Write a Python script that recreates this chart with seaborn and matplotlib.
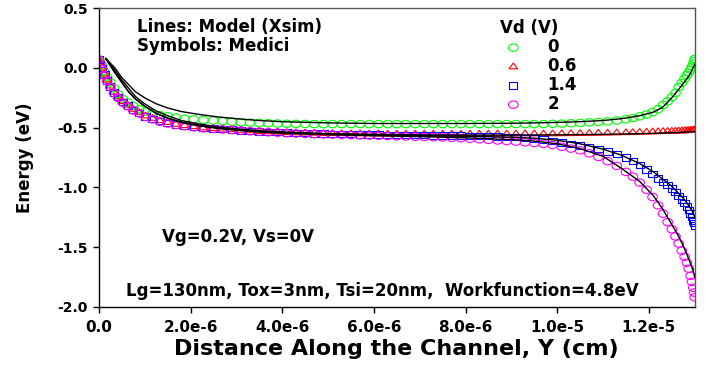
import numpy as np
import pandas as pd
import matplotlib
matplotlib.use("Agg")
import matplotlib.pyplot as plt
from matplotlib.path import Path
from matplotlib.transforms import Affine2D
import seaborn as sns

# ---- Medici simulation (symbols): shared mesh positions, in units of 1e-6 cm ----
mesh_y = [0.0, 0.03, 0.07, 0.12, 0.18, 0.25, 0.33, 0.42, 0.52, 0.63, 0.75, 0.88,
          1.02, 1.17, 1.33, 1.5, 1.68, 1.87, 2.07, 2.28, 2.5, 2.7,
          2.9, 3.1, 3.3, 3.5, 3.7, 3.9, 4.1, 4.3, 4.5, 4.7, 4.9, 5.1, 5.3, 5.5,
          5.7, 5.9, 6.1, 6.3, 6.5, 6.7, 6.9, 7.1, 7.3, 7.5, 7.7, 7.9, 8.1, 8.3,
          8.5, 8.7, 8.9, 9.1, 9.3, 9.5,
          9.7, 9.9, 10.1, 10.3, 10.5, 10.7, 10.9, 11.1, 11.3, 11.5, 11.65, 11.8,
          11.95, 12.08, 12.2, 12.31, 12.41, 12.5, 12.58, 12.65, 12.72, 12.78,
          12.83, 12.87, 12.91, 12.94, 12.97, 12.99, 13.0]

medici_vd0 = [0.07, 0.05, 0.02, -0.03, -0.08, -0.12, -0.17, -0.22, -0.26, -0.29, -0.32, -0.345,
              -0.365, -0.38, -0.395, -0.405, -0.415, -0.425, -0.43, -0.435, -0.44, -0.445,
              -0.45, -0.455, -0.458, -0.46, -0.463, -0.465, -0.467, -0.468, -0.469, -0.47, -0.47, -0.47, -0.47, -0.47,
              -0.47, -0.47, -0.47, -0.47, -0.47, -0.47, -0.47, -0.47, -0.47, -0.47, -0.47, -0.47, -0.47, -0.47,
              -0.47, -0.47, -0.47, -0.47, -0.47, -0.47,
              -0.47, -0.468, -0.466, -0.463, -0.46, -0.456, -0.452, -0.447, -0.44, -0.43, -0.42, -0.405,
              -0.39, -0.37, -0.345, -0.31, -0.28, -0.245, -0.21, -0.16, -0.125, -0.09,
              -0.06, -0.04, -0.015, 0.01, 0.035, 0.055, 0.075]

medici_vd06 = [0.07, 0.04, 0.0, -0.05, -0.10, -0.15, -0.20, -0.24, -0.28, -0.31, -0.345, -0.37,
               -0.40, -0.42, -0.44, -0.455, -0.47, -0.48, -0.49, -0.50, -0.505, -0.51,
               -0.515, -0.52, -0.525, -0.53, -0.533, -0.536, -0.539, -0.541, -0.543, -0.545, -0.547, -0.548, -0.549, -0.55,
               -0.55, -0.551, -0.551, -0.552, -0.552, -0.552, -0.552, -0.552, -0.552, -0.552, -0.552, -0.552, -0.552, -0.552,
               -0.551, -0.551, -0.551, -0.551, -0.55, -0.55,
               -0.55, -0.55, -0.549, -0.548, -0.547, -0.546, -0.545, -0.544, -0.542, -0.54, -0.539, -0.537,
               -0.535, -0.533, -0.532, -0.53, -0.529, -0.528, -0.527, -0.526, -0.525, -0.524,
               -0.523, -0.522, -0.521, -0.52, -0.519, -0.518, -0.517]

medici_vd14 = [0.07, 0.035, -0.005, -0.055, -0.105, -0.155, -0.205, -0.245, -0.285, -0.315, -0.35, -0.375,
               -0.405, -0.425, -0.445, -0.46, -0.473, -0.483, -0.493, -0.502, -0.508, -0.513,
               -0.517, -0.522, -0.527, -0.531, -0.535, -0.538, -0.541, -0.544, -0.546, -0.548, -0.55, -0.552, -0.553, -0.555,
               -0.556, -0.557, -0.558, -0.559, -0.56, -0.561, -0.562, -0.563, -0.564, -0.565, -0.566, -0.567, -0.568, -0.57,
               -0.572, -0.574, -0.577, -0.58, -0.584, -0.59,
               -0.60, -0.61, -0.625, -0.635, -0.65, -0.665, -0.68, -0.70, -0.72, -0.75, -0.78, -0.81,
               -0.85, -0.89, -0.925, -0.955, -0.98, -1.01, -1.04, -1.07, -1.10, -1.13,
               -1.16, -1.19, -1.22, -1.25, -1.28, -1.30, -1.32]

medici_vd2 = [0.07, 0.03, -0.01, -0.06, -0.11, -0.16, -0.21, -0.25, -0.29, -0.32, -0.355, -0.38,
              -0.41, -0.43, -0.45, -0.465, -0.477, -0.487, -0.497, -0.505, -0.51, -0.515,
              -0.52, -0.525, -0.53, -0.534, -0.538, -0.542, -0.546, -0.549, -0.552, -0.554, -0.556, -0.558, -0.56, -0.562,
              -0.564, -0.566, -0.568, -0.57, -0.572, -0.574, -0.576, -0.578, -0.58, -0.582, -0.585, -0.588, -0.592, -0.597,
              -0.602, -0.607, -0.612, -0.617, -0.622, -0.628,
              -0.635, -0.645, -0.66, -0.675, -0.69, -0.715, -0.745, -0.78, -0.82, -0.87, -0.91, -0.96,
              -1.02, -1.08, -1.15, -1.22, -1.29, -1.35, -1.41, -1.47, -1.53, -1.58,
              -1.63, -1.68, -1.74, -1.79, -1.84, -1.88, -1.92]

# ---- Xsim model (lines), in units of 1e-6 cm ----
model_y = [0.15, 0.25, 0.35, 0.5, 0.65, 0.8, 1.0, 1.25, 1.5, 1.8, 2.2, 2.6, 3.0, 3.5,
           4.0, 5.0, 6.0, 7.0, 8.0, 9.0, 9.5, 10.0, 10.5, 11.0, 11.4, 11.8, 12.1,
           12.3, 12.5, 12.65, 12.75, 12.83, 12.9, 12.95, 12.98, 13.0]

model_vd0 = [0.08, 0.04, 0.0, -0.08, -0.14, -0.20, -0.25, -0.30, -0.335, -0.365, -0.39, -0.41, -0.425, -0.44,
             -0.45, -0.46, -0.465, -0.465, -0.465, -0.463, -0.46, -0.456, -0.45, -0.44, -0.425, -0.40, -0.37,
             -0.33, -0.25, -0.18, -0.13, -0.09, -0.05, -0.01, 0.01, 0.03]
model_vd06 = [0.08, 0.03, -0.02, -0.10, -0.17, -0.24, -0.30, -0.36, -0.40, -0.44, -0.47, -0.495, -0.51, -0.525,
              -0.535, -0.55, -0.555, -0.56, -0.562, -0.562, -0.561, -0.56, -0.558, -0.556, -0.553, -0.55, -0.547,
              -0.545, -0.542, -0.54, -0.538, -0.536, -0.535, -0.533, -0.532, -0.53]
model_vd14 = [0.08, 0.02, -0.04, -0.12, -0.20, -0.26, -0.32, -0.38, -0.42, -0.455, -0.485, -0.505, -0.52, -0.535,
              -0.545, -0.555, -0.562, -0.567, -0.572, -0.58, -0.588, -0.605, -0.635, -0.68, -0.73, -0.80, -0.87,
              -0.93, -0.99, -1.05, -1.09, -1.13, -1.17, -1.20, -1.23, -1.25]
model_vd2 = [0.08, 0.02, -0.04, -0.12, -0.20, -0.26, -0.32, -0.38, -0.42, -0.455, -0.485, -0.505, -0.52, -0.535,
             -0.545, -0.558, -0.567, -0.575, -0.585, -0.60, -0.612, -0.635, -0.675, -0.74, -0.84, -0.95, -1.07,
             -1.18, -1.31, -1.41, -1.49, -1.56, -1.63, -1.68, -1.72, -1.75]

vd_labels = ["0", "0.6", "1.4", "2"]
vd_colors = ["#00ff00", "#ff0000", "#0000ff", "#ff00ff"]
vd_shapes = ["circle", "triangle", "square", "circle"]

x_ticks = [0.0, 2.0e-6, 4.0e-6, 6.0e-6, 8.0e-6, 1.0e-5, 1.2e-5]
x_tick_labels = ["0.0", "2.0e-6", "4.0e-6", "6.0e-6", "8.0e-6", "1.0e-5", "1.2e-5"]
y_ticks = [-2.0, -1.5, -1.0, -0.5, 0.0, 0.5]

UNIT = 1e-6
medici = [medici_vd0, medici_vd06, medici_vd14, medici_vd2]
model = [model_vd0, model_vd06, model_vd14, model_vd2]

# Slightly wide symbol outlines (the plot's symbols are wider than tall)
WIDE = Affine2D().scale(1.3, 1.0)
tri_path = Path([(0, 1), (-0.95, -0.6), (0.95, -0.6), (0, 1)],
                [Path.MOVETO, Path.LINETO, Path.LINETO, Path.CLOSEPOLY])
symbol_paths = {
    "circle": WIDE.transform_path(Path.unit_circle()),
    "triangle": WIDE.transform_path(tri_path),
    "square": WIDE.transform_path(Path.unit_rectangle().transformed(Affine2D().translate(-0.5, -0.5))),
}
symbol_sizes = {"circle": 48, "triangle": 40, "square": 36}

sns.set_style("ticks")
plt.rcParams["font.family"] = ["DejaVu Sans"]
plt.rcParams["font.weight"] = "bold"
for key in ["text.color", "axes.labelcolor", "xtick.color", "ytick.color", "axes.edgecolor"]:
    plt.rcParams[key] = "black"

fig = plt.figure(figsize=(7.06, 3.72), dpi=100)
ax = fig.add_axes([0.140, 0.175, 0.844, 0.803])

for lab, col, shape, vals in zip(vd_labels, vd_colors, vd_shapes, medici):
    df = pd.DataFrame({"y": np.array(mesh_y) * UNIT, "E": vals})
    sns.scatterplot(data=df, x="y", y="E", marker=symbol_paths[shape],
                    s=symbol_sizes[shape], color=col, facecolor="none",
                    edgecolor=col, linewidth=0.8, ax=ax, label=lab, zorder=2)

for vals in model:
    df = pd.DataFrame({"y": np.array(model_y) * UNIT, "E": vals})
    sns.lineplot(data=df, x="y", y="E", color="black", linewidth=1.0,
                 sort=False, estimator=None, ax=ax, zorder=3)

ax.set_xlim(0, 1.3e-5)
ax.set_ylim(-2.0, 0.5)
ax.set_xticks(x_ticks)
ax.set_xticklabels(x_tick_labels)
ax.set_yticks(y_ticks)
ax.set_yticklabels([f"{v:.1f}" for v in y_ticks])
ax.tick_params(axis="both", direction="out", length=4.5, width=1,
               top=False, right=False, pad=3.5, colors="black")
ax.tick_params(axis="x", labelsize=11, pad=5)
ax.tick_params(axis="y", labelsize=10)
for t in ax.get_xticklabels() + ax.get_yticklabels():
    t.set_fontweight("bold")

for side in ["left", "bottom"]:
    ax.spines[side].set_color("black")
    ax.spines[side].set_linewidth(1.0)
for side in ["top", "right"]:
    ax.spines[side].set_visible(True)
    ax.spines[side].set_color("#555555")
    ax.spines[side].set_linewidth(1.0)

ax.set_xlabel("Distance Along the Channel, Y (cm)", fontsize=16, fontweight="bold", labelpad=3)
ax.set_ylabel("Energy (eV)", fontsize=12, fontweight="bold", labelpad=17)

ax.text(0.064, 0.936, "Lines: Model (Xsim)", transform=ax.transAxes, fontsize=12,
        fontweight="bold", va="center", ha="left")
ax.text(0.064, 0.873, "Symbols: Medici", transform=ax.transAxes, fontsize=12,
        fontweight="bold", va="center", ha="left")
ax.text(0.106, 0.234, "Vg=0.2V, Vs=0V", transform=ax.transAxes, fontsize=12,
        fontweight="bold", va="center", ha="left")
ax.text(0.045, 0.054, "Lg=130nm, Tox=3nm, Tsi=20nm,  Workfunction=4.8eV",
        transform=ax.transAxes, fontsize=12, fontweight="bold", va="center", ha="left")

h, l = ax.get_legend_handles_labels()
leg = ax.legend(h[:4], l[:4], title="Vd (V)", loc="upper left",
                bbox_to_anchor=(0.655, 1.0), frameon=False, fontsize=12,
                title_fontproperties={"weight": "bold", "size": 12},
                handlelength=1.6, handletextpad=1.25, labelspacing=0.06,
                borderpad=0.15, markerscale=1.0)
leg._legend_box.align = "left"
for t in leg.get_texts():
    t.set_fontweight("bold")

fig.savefig("out.png", dpi=100)
